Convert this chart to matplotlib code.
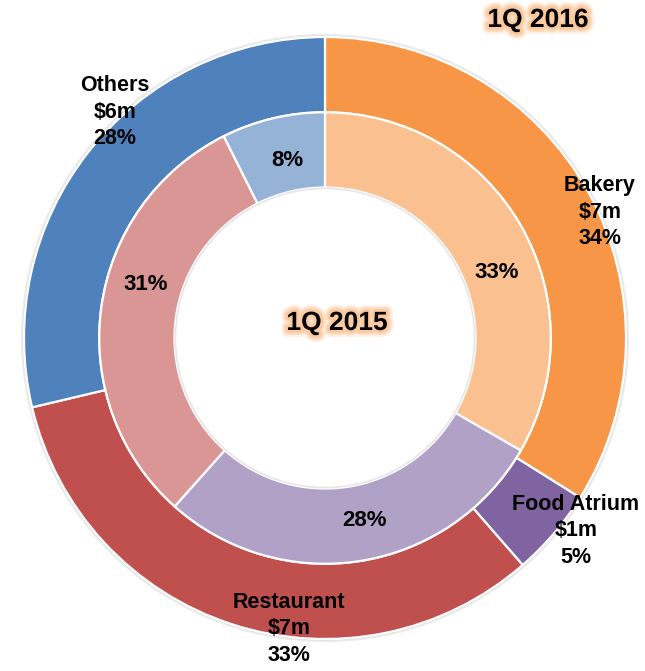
import matplotlib
matplotlib.use('Agg')
import matplotlib.pyplot as plt
import matplotlib.patheffects as pe
from matplotlib.patches import Circle

categories = ['Bakery', 'Food Atrium', 'Restaurant', 'Others']
# wedge sizes (percent)
share_2016 = [33.9, 4.7, 32.7, 28.7]
share_2015 = [33.3, 28.3, 31.0, 7.4]
# values as printed on the labels
label_sales_2016 = ['$7m', '$1m', '$7m', '$6m']
label_pct_2016 = ['34%', '5%', '33%', '28%']
label_pct_2015 = ['33%', '28%', '31%', '8%']
outer_colors = ['#F79646', '#8064A2', '#C0504D', '#4F81BD']
inner_colors = ['#FAC090', '#B2A1C7', '#D99694', '#95B3D7']

FONT = ['Liberation Sans', 'DejaVu Sans']

W, H = 645, 671
cx, cy, R = 325, 338, 301

fig = plt.figure(figsize=(W / 100, H / 100), dpi=100)
ax = fig.add_axes([0, 0, 1, 1])

# soft shadow around outer ring
ax.add_patch(Circle((0, 0), 1.008, color='#ececec', zorder=0))
ax.add_patch(Circle((0, 0), 1.003, color='#dedede', zorder=0))

ax.pie(share_2016, radius=1.0, colors=outer_colors, startangle=90,
       counterclock=False,
       wedgeprops=dict(width=0.25, edgecolor='white', linewidth=1.6))
ax.pie(share_2015, radius=0.75, colors=inner_colors, startangle=90,
       counterclock=False,
       wedgeprops=dict(width=0.25, edgecolor='white', linewidth=1.6))
# white hole with faint rim
ax.add_patch(Circle((0, 0), 0.497, facecolor='white', edgecolor='#e6e6e6',
                    linewidth=1.2, zorder=5))

ax.set_xlim(-cx / R, (W - cx) / R)
ax.set_ylim(-(H - cy) / R, cy / R)
ax.set_aspect('auto')
ax.axis('off')


def to_data(px, py):
    return (px - cx) / R, (cy - py) / R


outer_pos = [(600, 212), (576, 531), (289, 629), (115, 112)]
for cat, val, pct, (px, py) in zip(categories, label_sales_2016,
                                   label_pct_2016, outer_pos):
    x, y = to_data(px, py)
    ax.text(x, y, f'{cat}\n{val}\n{pct}', ha='center', va='center',
            fontsize=15.5, fontweight='bold', family=FONT, linespacing=1.32,
            zorder=10)

inner_pos = [(497, 273), (365, 521), (146, 285), (287, 160)]
for pct, (px, py) in zip(label_pct_2015, inner_pos):
    x, y = to_data(px, py)
    ax.text(x, y, pct, ha='center', va='center', fontsize=16,
            fontweight='bold', family=FONT, zorder=10)

glow = [pe.Stroke(linewidth=10, foreground='#FEF0E4'),
        pe.Stroke(linewidth=7, foreground='#FDDCC0'),
        pe.Stroke(linewidth=4, foreground='#FBC9A0'),
        pe.Normal()]
for label, (px, py) in [('1Q 2016', (538, 20)), ('1Q 2015', (337, 323))]:
    x, y = to_data(px, py)
    ax.text(x, y, label, ha='center', va='center', fontsize=19,
            fontweight='bold', family=FONT, path_effects=glow, zorder=10)

fig.savefig('out.png', dpi=100)
